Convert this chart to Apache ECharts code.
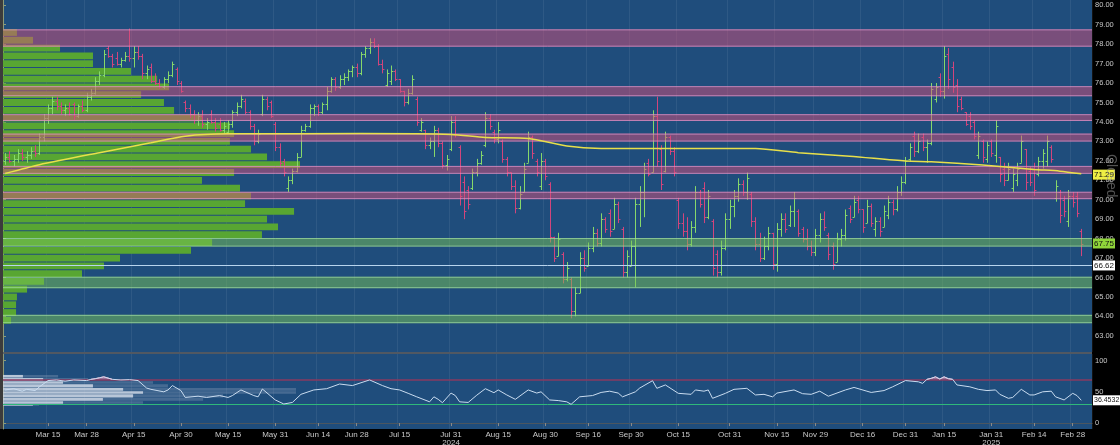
<!DOCTYPE html>
<html><head><meta charset="utf-8">
<script src="https://cdn.jsdelivr.net/npm/echarts/dist/echarts.min.js"></script>
<style>html,body{margin:0;padding:0;background:#000;}#c{width:1120px;height:445px;}</style>
</head><body><div id="c"></div>
<script>
// ---------- DATA ----------
const startDate = '2024-03-01';
const endDate = '2025-03-06';
const holidays = ['2024-03-29','2024-05-27','2024-06-19','2024-07-04','2024-09-02','2024-11-28','2024-12-25','2025-01-01','2025-01-09','2025-01-20','2025-02-17'];
const tickDates = ['2024-03-15','2024-03-28','2024-04-15','2024-04-30','2024-05-15','2024-05-31','2024-06-14','2024-06-28','2024-07-15','2024-07-31','2024-08-15','2024-08-30','2024-09-16','2024-09-30','2024-10-15','2024-10-31','2024-11-15','2024-11-29','2024-12-16','2024-12-31','2025-01-15','2025-01-31','2025-02-14','2025-02-28'];
const yearMarks = {'2024-07-31':'2024','2025-01-31':'2025'};
const priceTicks = [63,64,65,66,67,68,69,70,71,72,73,74,75,76,77,78,79,80];
const rsiTicks = [0,50,100];

// daily bars: [open, high, low, close]
const ohlc = [
[72.0,72.4,71.8,72.2],[72.2,72.5,71.9,72.0],[72.0,72.3,71.7,72.1],[72.1,72.6,71.9,72.4],[72.4,72.6,72.0,72.2],
[72.2,72.5,71.9,72.3],[72.3,72.7,72.1,72.5],[72.5,72.8,72.2,72.4],[72.4,73.4,72.3,73.2],[73.2,74.4,73.0,74.2],
[74.2,74.9,73.9,74.7],[74.7,75.3,74.4,75.1],[75.1,75.3,74.6,74.8],[74.8,75.0,74.4,74.6],[74.6,74.9,74.3,74.7],
[74.7,75.0,74.3,74.4],[74.9,75.0,74.1,74.3],[74.3,74.9,74.2,74.8],[74.8,75.1,74.5,74.6],[74.6,75.5,74.5,75.3],
[75.3,75.7,75.1,75.5],[75.5,76.3,75.4,76.1],[76.1,76.6,75.9,76.4],[76.4,77.7,76.3,77.5],[77.8,77.9,77.3,77.4],
[77.4,77.5,76.8,77.0],[77.3,77.6,76.9,77.0],[77.0,77.3,76.8,77.2],[77.2,77.6,77.1,77.4],[77.4,78.8,77.1,77.3],
[77.3,77.9,76.8,77.6],[77.6,77.9,77.2,77.4],[77.4,77.5,76.2,76.5],[76.5,76.9,76.2,76.7],[76.8,77.0,76.0,76.1],
[76.1,76.5,75.9,76.0],[76.0,76.2,75.7,75.8],[75.8,76.3,75.7,76.2],[76.2,76.6,76.0,76.4],[76.4,77.1,76.3,77.0],
[76.7,76.8,75.9,76.1],[76.0,76.1,75.5,75.6],[75.0,75.1,74.5,74.7],[74.7,74.9,74.2,74.4],[74.4,74.6,73.9,74.1],
[74.1,74.5,73.8,74.3],[74.3,74.6,73.7,73.9],[73.9,74.2,73.6,74.0],[74.4,74.6,73.9,74.0],[74.0,74.2,73.5,73.7],
[73.9,74.2,73.5,73.6],[73.6,74.0,73.4,73.8],[73.5,74.1,73.4,73.9],[73.9,74.6,73.7,74.5],[74.5,75.0,74.3,74.8],
[74.8,75.4,74.7,75.2],[75.1,75.2,74.4,74.5],[74.5,74.6,73.6,73.8],[73.8,73.9,72.8,73.0],[73.0,73.6,72.9,73.4],
[74.4,75.4,74.3,75.2],[75.2,75.3,74.6,74.8],[75.0,75.1,74.2,74.3],[73.9,74.0,72.5,72.7],[72.7,72.9,71.7,71.9],
[72.0,72.1,71.2,71.4],[70.6,71.2,70.4,71.0],[71.0,71.6,70.8,71.5],[71.5,72.4,71.4,72.2],[72.2,73.8,72.2,73.6],
[73.6,73.9,73.5,73.8],[73.8,74.9,73.7,74.7],[74.7,74.9,74.3,74.8],[74.8,74.9,74.3,74.5],[74.5,75.0,74.4,74.9],
[74.9,75.8,74.6,75.6],[75.6,76.3,75.5,76.2],[76.2,76.3,75.6,75.8],[75.8,76.4,75.7,76.2],[76.2,76.5,75.9,76.3],
[76.3,76.7,76.1,76.6],[76.6,76.9,76.3,76.8],[76.8,77.0,76.3,76.5],[76.5,77.6,76.4,77.5],[77.5,77.9,77.3,77.8],
[77.8,78.3,77.5,78.1],[78.1,78.3,77.8,77.9],[77.9,78.0,76.9,77.0],[77.0,77.2,76.5,76.7],[75.9,76.7,75.8,76.5],
[76.1,76.9,75.9,76.6],[76.6,76.7,76.1,76.2],[76.2,76.2,75.5,75.6],[75.6,75.6,74.8,75.0],[75.0,75.7,74.9,75.5],
[75.5,76.4,75.4,76.2],[75.2,75.3,73.8,74.0],[73.6,74.2,73.5,74.0],[73.6,73.6,72.6,72.8],[72.8,73.2,72.6,73.0],
[73.0,73.8,72.2,73.6],[73.6,73.7,72.7,72.9],[72.9,73.0,71.6,71.8],[71.8,72.3,71.5,72.1],[72.6,74.3,72.5,74.0],
[74.0,74.3,73.2,73.4],[72.7,72.8,69.7,70.2],[70.9,71.2,69.0,69.4],[70.5,70.7,69.5,69.8],[70.6,71.6,70.5,71.4],
[71.4,72.1,71.2,71.9],[71.9,72.5,71.8,72.3],[72.8,74.5,72.7,74.2],[74.2,74.4,73.6,73.8],[73.5,73.6,72.9,73.1],
[73.1,74.0,72.9,73.6],[73.0,73.1,71.9,72.1],[72.1,72.2,71.2,71.4],[71.4,71.4,70.5,70.7],[70.7,71.0,69.3,69.6],
[69.6,70.7,69.5,70.3],[70.4,71.9,70.4,71.6],[71.9,73.5,71.9,73.2],[73.2,73.3,72.1,72.4],[72.0,72.1,71.2,71.4],
[70.7,72.4,70.5,72.0],[72.0,72.1,71.0,71.2],[70.8,70.9,67.8,68.1],[68.1,68.1,66.8,67.0],[67.1,68.3,67.1,68.0],
[67.2,67.3,65.7,65.9],[65.9,66.8,65.8,66.5],[65.9,66.0,63.9,64.3],[64.3,65.5,64.0,65.2],[65.2,67.3,65.2,67.0],
[67.0,67.4,66.3,66.5],[66.6,67.8,66.6,67.5],[67.5,68.6,67.3,68.3],[68.3,68.5,67.6,67.8],[67.8,69.3,67.6,69.0],
[69.0,69.1,68.3,68.5],[69.3,69.5,68.1,68.4],[68.5,70.1,68.5,69.8],[69.8,69.9,68.8,69.0],[68.5,68.6,66.0,66.3],
[66.3,67.4,66.0,67.1],[66.6,67.9,66.6,67.6],[67.6,70.1,65.5,69.8],[69.8,70.7,68.6,70.4],[70.4,71.9,69.1,71.6],
[71.9,72.1,71.2,71.3],[71.4,74.6,71.4,74.3],[74.3,75.3,71.7,72.0],[72.6,72.8,70.5,70.8],[71.5,73.5,71.4,73.2],
[73.2,73.3,72.3,72.5],[72.5,72.7,71.2,71.4],[70.0,70.1,68.5,68.8],[68.8,69.3,68.1,68.4],[68.4,69.1,67.4,67.7],
[67.7,68.9,67.6,68.6],[68.6,70.7,68.3,70.4],[70.4,70.5,69.6,69.8],[70.6,70.9,68.8,69.1],[69.1,70.5,69.0,70.2],
[68.9,69.0,66.1,66.5],[67.2,67.4,66.0,66.3],[66.3,67.9,66.1,67.5],[67.5,69.3,67.4,69.0],[69.0,70.0,68.5,69.7],
[69.7,70.5,69.1,70.2],[70.2,71.1,69.9,70.8],[70.8,71.0,70.2,70.4],[70.4,71.4,70.0,71.1],[70.3,70.4,68.6,68.9],
[68.9,69.1,67.4,67.7],[67.7,68.3,66.8,67.0],[67.0,68.1,66.9,67.6],[67.6,68.6,67.4,68.3],[68.3,68.3,66.4,66.7],
[66.7,68.8,66.3,68.5],[68.5,69.3,68.1,69.0],[69.0,69.3,68.3,68.5],[68.7,69.7,68.6,69.4],[69.4,70.4,68.6,70.1],
[69.4,69.5,68.1,68.3],[68.5,68.6,67.8,68.0],[68.0,68.5,67.4,67.6],[67.6,67.9,67.1,67.3],[67.3,68.5,67.1,68.2],
[68.2,69.3,67.8,69.0],[69.0,69.4,68.4,68.6],[68.2,68.3,66.9,67.2],[67.6,67.8,66.4,66.7],[66.8,68.3,66.8,68.0],
[68.0,68.5,67.6,68.2],[68.2,69.5,67.9,69.2],[69.6,69.7,68.8,69.0],[69.1,70.2,69.1,69.9],[70.0,70.2,69.3,69.5],
[69.5,69.5,68.3,68.6],[68.8,70.0,68.8,69.7],[69.7,69.8,68.6,68.8],[68.5,69.1,68.1,68.9],[68.9,69.1,68.1,68.4],
[68.6,69.7,68.6,69.4],[69.2,70.2,69.0,69.9],[69.9,70.0,69.2,69.5],[69.5,70.7,69.4,70.4],[70.4,71.2,70.2,70.9],
[70.9,72.2,70.8,72.0],[72.1,72.9,72.0,72.7],[73.3,73.5,72.2,72.5],[72.5,73.4,72.4,73.0],[73.2,73.4,72.5,72.7],
[72.7,73.1,71.9,72.9],[72.9,76.0,72.8,75.7],[75.2,76.0,75.0,75.8],[76.3,76.5,75.3,75.6],[75.6,77.9,75.2,77.4],
[77.5,77.8,75.7,76.2],[76.8,77.1,75.5,75.8],[75.9,76.2,74.5,74.8],[75.2,75.3,74.6,74.7],[74.5,74.5,73.8,73.9],
[74.3,74.5,73.6,73.8],[74.0,74.1,73.1,73.3],[72.3,73.5,72.1,73.3],[73.0,73.1,71.9,72.2],[72.1,73.0,71.9,72.8],
[73.0,73.1,72.2,72.4],[72.3,74.1,71.9,73.8],[72.2,72.2,70.9,71.3],[71.6,71.9,70.7,71.0],[71.0,71.9,71.0,71.6],
[70.6,71.6,70.4,71.3],[71.0,71.9,70.7,71.6],[71.9,73.3,71.9,73.0],[72.6,72.6,70.5,70.9],[71.5,71.7,70.7,70.9],
[71.6,71.9,70.2,70.5],[71.3,72.2,71.2,72.0],[72.0,72.6,71.6,72.4],[72.0,73.3,71.7,73.0],[72.7,72.8,71.9,72.1],
[70.1,71.0,69.9,70.7],[70.4,70.5,68.8,69.2],[70.0,70.2,69.1,69.4],[68.9,70.5,68.6,70.2],[70.2,70.4,69.6,69.9],
[70.2,70.4,69.1,69.3],[68.4,68.5,67.1,67.7]
];

// moving average read at points [barIndex, value]
const maPoints = [[0,71.35],[8,71.8],[22,72.42],[34,72.93],[42,73.27],[52,73.39],[83,73.40],[104,73.36],[112,73.2],[122,73.15],[131,72.76],[139,72.64],[175,72.63],[185,72.42],[197,72.24],[210,71.99],[216,71.95],[228,71.78],[240,71.56],[246,71.47],[251,71.33]];

// RSI read at points [barIndex, value]
const rsiPoints = [[0,53],[2,55],[4,51],[5,54],[7,52],[8,58],[10,68],[12,69],[14,67],[16,69],[19,68],[20,70],[21,71],[22,72.5],[23,74],[24,72],[25,70],[27,69],[29,69.5],[31,68],[33,56],[34,54],[37,50],[38,53],[39,60],[41,52],[42,41],[45,43],[47,41],[50,44],[52,41],[53,44],[55,53],[58,44],[59,42],[60,54.5],[63,37],[65,30.5],[67,33],[69,46],[72,53],[75,55],[78,62.5],[81,60],[85,69],[88,60],[90,55],[92,53],[94,47.6],[96,42],[99,34],[100,42],[101,38],[102,32.6],[104,48],[105,44],[106,34],[108,33],[110,44.6],[112,55],[114,48.6],[115,53],[117,45],[119,38],[122,53],[124,48],[125,50],[127,37],[129,36],[131,34],[132,30],[134,42],[137,44],[139,49],[141,51],[143,48],[144,42],[147,50],[148,56],[151,67.8],[152,55.6],[154,61],[157,47.6],[160,46],[161,53],[163,51],[164,53],[165,39.6],[168,47.6],[170,54],[173,55.6],[175,45],[177,46],[179,42],[180,48],[184,53],[186,47],[188,46],[190,51],[192,43],[196,53],[198,57],[201,51],[202,49],[205,52],[207,58],[210,68],[213,66],[214,63.5],[215,70],[216,71.6],[217,74],[218,70.5],[219,74],[220,71],[221,70],[222,61],[225,58],[227,54],[229,52],[231,53],[232,46],[234,39.6],[235,41],[237,54],[239,45],[240,45],[242,50],[244,51],[245,42],[247,37],[249,47.6],[250,44],[251,36.45]];
const rsiOverPoints = [[20,70],[21,71],[22,72.5],[23,74],[24,72],[25,70],[215,70],[216,71.6],[217,74],[218,70.5],[219,74],[220,71],[221,70]];
const rsiLevels = {over: 70, under: 30};
const rsiLast = 36.4532;

// horizontal zones [low, high]
const resistanceZones = [[77.87,78.76],[75.32,75.84],[74.05,74.40],[72.99,73.40],[71.33,71.74],[70.03,70.41]];
const supportZones = [[67.59,68.03],[65.45,66.04],[63.65,64.08]];
const pivotLevel = 66.62;
const maLastLabel = 71.29;
const supportLabel = 67.75;

// volume at price: [priceLow, priceHigh, relative volume %]
const volumeProfile = [
[63.6,64.0,2.7],[64.0,64.4,4.4],[64.4,64.8,4.4],[64.8,65.2,4.7],[65.2,65.6,8.1],[65.6,66.0,13.8],
[66.0,66.4,26.6],[66.4,66.8,34.0],[66.8,67.2,39.4],[67.2,67.6,63.3],[67.6,68.0,70.4],[68.0,68.4,87.2],
[68.4,68.8,92.6],[68.8,69.2,88.9],[69.2,69.6,98.0],[69.6,70.0,81.5],[70.0,70.4,83.5],[70.4,70.8,79.8],
[70.8,71.2,67.0],[71.2,71.6,77.8],[71.6,72.0,100],[72.0,72.4,88.9],[72.4,72.8,83.5],[72.8,73.2,76.4],
[73.2,73.6,77.8],[73.6,74.0,76.4],[74.0,74.4,67.0],[74.4,74.8,57.6],[74.8,75.2,54.2],[75.2,75.6,46.5],
[75.6,76.0,55.9],[76.0,76.4,51.9],[76.4,76.8,43.1],[76.8,77.2,30.3],[77.2,77.6,30.3],[77.6,78.0,19.2],
[78.0,78.4,10.1],[78.4,78.8,4.7]
];
// RSI distribution: [rsiLow, rsiHigh, core %, extent %]
const rsiProfile = [
[72,77,6.8,18.8],[67,72,13.7,29.0],[62,67,20.5,51.2],[56,62,30.7,56.3],[51,56,41.0,100],
[46,51,47.8,100],[40,46,44.4,75.1],[35,40,34.1,68.3],[30,35,20.5,47.8],[27,30,10.2,12.3]
];

// ---------- BUILD ----------
const holidaySet = new Set(holidays);
const dates = [];
for (let d = new Date(startDate + 'T00:00:00Z'); d <= new Date(endDate + 'T00:00:00Z'); d.setUTCDate(d.getUTCDate() + 1)) {
  const w = d.getUTCDay(); const s = d.toISOString().slice(0, 10);
  if (w !== 0 && w !== 6 && !holidaySet.has(s)) dates.push(s);
}
const tickSet = new Set(tickDates);
const MONTHS = ['Jan','Feb','Mar','Apr','May','Jun','Jul','Aug','Sep','Oct','Nov','Dec'];
const n = ohlc.length;
function sparse(points) { const a = new Array(n).fill(null); points.forEach(p => { a[p[0]] = p[1]; }); return a; }
const maSeries = sparse(maPoints);
const rsiSeries = sparse(rsiPoints);
const rsiOver = sparse(rsiOverPoints);

const BG = '#1f4d7c', UP = '#86d86a', DOWN = '#d2457c', FONT = 'Liberation Sans';
const AXIS = '#8d9a78', LBL = '#c8c8c8';
const GRID_W = 1089;
const NOLINE = {color: 'rgba(0,0,0,0)', width: 0};

const chart = echarts.init(document.getElementById('c'), null, {renderer: 'canvas'});

function renderOHLC(params, api) {
  const i = api.value(0), o = api.value(1), h = api.value(2), l = api.value(3), c = api.value(4);
  const pH = api.coord([i, h]), pL = api.coord([i, l]), pO = api.coord([i, o]), pC = api.coord([i, c]);
  const w = Math.max(1.5, api.size([1, 0])[0] * 0.45);
  const x = Math.round(pH[0]) + 0.5;
  const col = c >= o ? UP : DOWN;
  const st = {stroke: col, lineWidth: 1};
  return {type: 'group', children: [
    {type: 'line', shape: {x1: x, y1: pH[1], x2: x, y2: pL[1]}, style: st},
    {type: 'line', shape: {x1: x - w, y1: Math.round(pO[1]) + 0.5, x2: x, y2: Math.round(pO[1]) + 0.5}, style: st},
    {type: 'line', shape: {x1: x, y1: Math.round(pC[1]) + 0.5, x2: x + w, y2: Math.round(pC[1]) + 0.5}, style: st}
  ]};
}
function renderVolume(params, api) {
  const v = api.value(0), lo = api.value(1), hi = api.value(2);
  const a = api.coord([0, hi]), b = api.coord([v, lo]);
  return {type: 'rect', shape: {x: a[0], y: a[1] + 0.5, width: b[0] - a[0], height: Math.max(1, b[1] - a[1] - 1)},
    style: {fill: '#58a632'}};
}
function renderZone(params, api) {
  const lo = api.value(1), hi = api.value(2), kind = api.value(3);
  const cs = params.coordSys;
  const yH = api.coord([0, hi])[1], yL = api.coord([0, lo])[1];
  const fill = kind === 0 ? 'rgba(212,80,122,0.5)' : 'rgba(119,193,85,0.5)';
  const edge = kind === 0 ? 'rgba(235,160,215,0.65)' : 'rgba(170,230,170,0.65)';
  return {type: 'group', children: [
    {type: 'rect', shape: {x: cs.x, y: yH, width: cs.width, height: yL - yH}, style: {fill: fill}},
    {type: 'line', shape: {x1: cs.x, y1: yH + 0.5, x2: cs.x + cs.width, y2: yH + 0.5}, style: {stroke: edge, lineWidth: 1}},
    {type: 'line', shape: {x1: cs.x, y1: yL - 0.5, x2: cs.x + cs.width, y2: yL - 0.5}, style: {stroke: edge, lineWidth: 1}}
  ]};
}
function renderRsiProfile(params, api) {
  const core = api.value(0), ext = api.value(1), lo = api.value(2), hi = api.value(3);
  const a = api.coord([0, hi]), b = api.coord([ext, lo]), c = api.coord([core, lo]);
  return {type: 'group', children: [
    {type: 'rect', shape: {x: a[0], y: a[1], width: b[0] - a[0], height: b[1] - a[1] - 0.5}, style: {fill: 'rgba(130,150,180,0.4)'}},
    {type: 'rect', shape: {x: a[0], y: a[1], width: c[0] - a[0], height: c[1] - a[1] - 0.5}, style: {fill: 'rgba(205,214,228,0.85)'}}
  ]};
}
const zoneData = resistanceZones.map(z => [0, z[0], z[1], 0]).concat(supportZones.map(z => [0, z[0], z[1], 1]));

function tagLabel(text, bg, fg, size) {
  return {show: true, position: 'end', distance: 1, formatter: text, backgroundColor: bg, color: fg,
    fontSize: size || 8, fontFamily: FONT, padding: [1, 1, 0, 1], lineHeight: 9, opacity: 1};
}
const splitFn = (i, v) => tickSet.has(v);

chart.setOption({
  animation: false,
  backgroundColor: '#000',
  textStyle: {fontFamily: FONT},
  grid: [
    {left: 3, top: 0, width: GRID_W, height: 352, show: true, backgroundColor: BG, borderWidth: 0, outerBoundsMode: 'none', containLabel: false},
    {left: 3, top: 354, width: GRID_W, height: 75, show: true, backgroundColor: BG, borderWidth: 0, outerBoundsMode: 'none', containLabel: false}
  ],
  xAxis: [
    {gridIndex: 0, type: 'category', data: dates, boundaryGap: true,
      axisLine: {show: false}, axisTick: {show: false}, axisLabel: {show: false},
      splitLine: {show: true, interval: splitFn, lineStyle: {color: 'rgba(255,255,255,0.07)', width: 1}}},
    {gridIndex: 1, type: 'category', data: dates, boundaryGap: true,
      axisLine: {show: true, lineStyle: {color: '#4b5660'}},
      axisTick: {show: true, interval: splitFn, alignWithLabel: true, length: 3, lineStyle: {color: '#8a8a8a'}},
      axisLabel: {interval: splitFn, color: LBL, fontSize: 8, lineHeight: 8, margin: 2, fontFamily: FONT,
        formatter: v => MONTHS[+v.slice(5, 7) - 1] + ' ' + (+v.slice(8, 10)) + (yearMarks[v] ? '\n' + yearMarks[v] : '')},
      splitLine: {show: true, interval: splitFn, lineStyle: {color: 'rgba(255,255,255,0.07)', width: 1}}},
    {gridIndex: 0, type: 'value', min: 0, max: 100 * 1089 / 297, show: false},
    {gridIndex: 1, type: 'value', min: 0, max: 100 * 1089 / 293, show: false}
  ],
  yAxis: [
    {gridIndex: 0, type: 'value', position: 'right', min: 62.17, max: 80.27, scale: true,
      splitLine: {show: false},
      axisLine: {show: true, lineStyle: {color: AXIS}},
      axisTick: {show: true, customValues: priceTicks, length: 3, lineStyle: {color: AXIS}},
      axisLabel: {customValues: priceTicks, formatter: v => v.toFixed(2), color: LBL, fontSize: 7.5, margin: 3, fontFamily: FONT}},
    {gridIndex: 1, type: 'value', position: 'right', min: -9.5, max: 110.5,
      splitLine: {show: false},
      axisLine: {show: true, lineStyle: {color: AXIS}},
      axisTick: {show: true, customValues: rsiTicks, length: 3, lineStyle: {color: AXIS}},
      axisLabel: {customValues: rsiTicks, formatter: v => String(v), color: LBL, fontSize: 7.5, margin: 3, fontFamily: FONT}}
  ],
  series: [
    {name: 'volume', type: 'custom', xAxisIndex: 2, yAxisIndex: 0, z: 1, silent: true,
      renderItem: renderVolume, encode: {x: 0, y: [1, 2]},
      data: volumeProfile.map(r => [r[2], r[0], r[1]])},
    {name: 'bars', type: 'custom', xAxisIndex: 0, yAxisIndex: 0, z: 2, clip: true, silent: true,
      renderItem: renderOHLC, encode: {x: 0, y: [1, 2, 3, 4]},
      data: ohlc.map((r, i) => [i, r[0], r[1], r[2], r[3]])},
    {name: 'zones', type: 'custom', xAxisIndex: 0, yAxisIndex: 0, z: 3, silent: true,
      renderItem: renderZone, encode: {x: 0, y: [1, 2]}, data: zoneData,
      markLine: {silent: true, symbol: ['none', 'none'], z: 6, animation: false,
        data: [
          {yAxis: pivotLevel, lineStyle: {color: '#b8d4ee', width: 1, type: 'solid'}, label: tagLabel(pivotLevel.toFixed(2), '#ffffff', '#111')},
          {yAxis: supportLabel, lineStyle: NOLINE, label: tagLabel(supportLabel.toFixed(2), '#8fd43a', '#111')},
          {yAxis: maLastLabel, lineStyle: NOLINE, label: tagLabel(maLastLabel.toFixed(2), '#eeee44', '#111')}
        ]}},
    {name: 'MA', type: 'line', xAxisIndex: 0, yAxisIndex: 0, z: 5, data: maSeries, connectNulls: true,
      smooth: 0.25, symbol: 'none', silent: true, lineStyle: {color: '#e8e04a', width: 1.5}},
    {name: 'rsiProfile', type: 'custom', xAxisIndex: 3, yAxisIndex: 1, z: 1, silent: true,
      renderItem: renderRsiProfile, encode: {x: [0, 1], y: [2, 3]},
      data: rsiProfile.map(r => [r[2], r[3], r[0], r[1]])},
    {name: 'rsiOver', type: 'line', xAxisIndex: 1, yAxisIndex: 1, z: 3, data: rsiOver, connectNulls: false,
      symbol: 'none', silent: true, lineStyle: {color: '#f0a0c0', width: 1},
      areaStyle: {origin: rsiLevels.over, color: 'rgba(235,140,175,0.85)'}},
    {name: 'RSI', type: 'line', xAxisIndex: 1, yAxisIndex: 1, z: 4, data: rsiSeries, connectNulls: true,
      symbol: 'none', silent: true, lineStyle: {color: '#c9dcf0', width: 1},
      markLine: {silent: true, symbol: ['none', 'none'], z: 2, animation: false,
        data: [
          {yAxis: rsiLevels.over, lineStyle: {color: '#8a3a60', width: 1.5, type: 'solid'}, label: {show: false}},
          {yAxis: rsiLevels.under, lineStyle: {color: '#2fb87a', width: 1, type: 'solid'}, label: {show: false}},
          {yAxis: rsiLast, lineStyle: NOLINE, label: tagLabel(rsiLast.toFixed(4), '#ffffff', '#111', 7)}
        ]}}
  ],
  graphic: [
    {type: 'rect', left: 0, top: 0, shape: {width: 3, height: 429}, style: {fill: '#3c3c3c'}, z: 10},
    {type: 'line', shape: {x1: 3, y1: 353, x2: 1092, y2: 353}, style: {stroke: '#6b7683', lineWidth: 1.5}, z: 10},
    {type: 'text', x: 1118, y: 154, rotation: -Math.PI / 2, z: 10,
      style: {text: 'Closed', fill: 'rgba(150,150,150,0.55)', font: '14px "Liberation Sans"', textAlign: 'left', textVerticalAlign: 'top'}}
  ]
});
</script></body></html>
